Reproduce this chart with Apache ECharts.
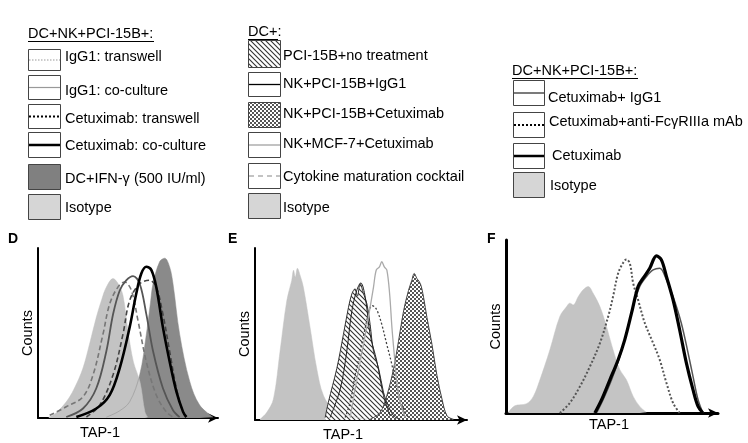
<!DOCTYPE html>
<html><head><meta charset="utf-8">
<script src="https://cdn.jsdelivr.net/npm/echarts@6/dist/echarts.min.js"></script>
<style>html,body{margin:0;padding:0;background:#fff}#c{width:748px;height:443px}</style>
</head><body><div id="c"></div>
<script>
// ---------- legend texts ----------
const legendTitleD = 'DC+NK+PCI-15B+:';
const legendLabelsD = ['IgG1: transwell', 'IgG1: co-culture', 'Cetuximab: transwell', 'Cetuximab: co-culture', 'DC+IFN-\u03b3 (500 IU/ml)', 'Isotype'];
const legendTitleE = 'DC+:';
const legendLabelsE = ['PCI-15B+no treatment', 'NK+PCI-15B+IgG1', 'NK+PCI-15B+Cetuximab', 'NK+MCF-7+Cetuximab', 'Cytokine maturation cocktail', 'Isotype'];
const legendTitleF = 'DC+NK+PCI-15B+:';
const legendLabelsF = ['Cetuximab+ IgG1', 'Cetuximab+anti-Fc\u03b3RIIIa mAb', 'Cetuximab', 'Isotype'];
const panelLetters = ['D', 'E', 'F'];
const xName = 'TAP-1';
const yName = 'Counts';

// ---------- panel D histograms [TAP-1, counts] ----------
const dIsotype = [[6,0.5],[10,3],[15.7,9.5],[20,17],[25,29.4],[29,45],[32.4,59.2],[35.5,70],[38,77],[41.7,82],[44.5,79],[47.2,72],[50,51],[53,33],[56.7,21],[59.4,3.6],[61,0.5]];
const dIFN = [[38,0.5],[45,4],[50.9,9.5],[56.5,25.4],[60.2,49.3],[62.5,68],[63.9,79],[67.6,92],[70.4,94],[73.1,89],[75,79],[78.7,49.3],[84.3,21.5],[89.8,7.6],[97.2,0.5]];
const dIgGTrans = [[6.5,1.6],[15.7,6.6],[25,12.5],[30.6,25.4],[36.1,49.3],[39.8,67],[44.4,77],[48.1,80],[51.9,75],[55.6,57],[60.2,33],[65.7,13.5],[71.3,3.6],[75,0.5]];
const dIgGCo = [[15.7,0.6],[25,5.6],[32.4,17.5],[38,39.4],[41.7,61],[45.4,75],[49,81],[52.8,83.5],[56.5,79],[60.2,61],[63.9,39.4],[69.4,17.5],[75,4.6],[78.7,0.5]];
const dCetTrans = [[26.9,0.6],[34.3,7.6],[41.7,25.4],[47.2,49.3],[50.9,69],[56.5,79],[62,81],[65.7,77],[69.4,61],[73.1,39.4],[76.9,17.5],[80.6,3.6],[83.3,0.5]];
const dCetCo = [[21.3,0.6],[32.4,5.6],[39.8,13.5],[45.4,29.4],[50.9,53.3],[54.6,73.2],[57.4,85],[60.2,89],[63,87],[65.7,77],[69.4,53.3],[73.1,33.4],[76.9,15.5],[80.6,3.6],[82.4,0.5]];

// ---------- panel E histograms ----------
const eIsotype = [[2.4,0.4],[5.5,4.3],[8.7,12.2],[11.8,39.8],[15,69.4],[17.3,81],[18.2,87],[19,83],[20,88.2],[21.3,84],[22.8,77.3],[26,53.6],[29.1,30],[32.3,14.2],[37,6.3],[44.9,2.4],[52.8,0.4]];
const eNoTreat = [[33.1,1.4],[34.6,10.3],[38.6,30],[41.7,49.7],[44.1,65.5],[45.7,73.4],[47.2,76.3],[48.3,72],[49.6,79.3],[51.2,73.4],[52.8,67.5],[54.3,55.6],[55.9,39.8],[58.3,30],[60.6,16.2],[62.2,10.3],[65.4,2.4],[68.5,0.4]];
const eNkIgG = [[35.4,1.4],[40.2,18],[43.3,40],[45.7,63.5],[48,75.3],[49.9,79.7],[52,71.4],[54.3,49.7],[57.5,34],[60.6,14.2],[63.8,2.4]];
const eCocktail = [[42.5,1.4],[44.9,10.3],[47.2,26],[49.6,39.8],[52,53.6],[53.5,61.5],[55.1,66.5],[56.7,65.5],[58.3,61.5],[59.8,55.6],[62.2,43.8],[64.6,32],[66.9,18.1],[70.1,6.3],[72.4,1.4]];
const eMCF7 = [[44.9,1.4],[47.2,18],[49.6,34],[52,49.7],[54.3,65.5],[55.9,77.3],[57.2,87.2],[58.7,89],[59.8,92],[61,89],[62.2,87.2],[63.5,73.4],[64.6,53.6],[65.7,37.9],[66.9,22],[68.5,10.3],[70.9,1.4]];
const eNkCet = [[54.3,0.4],[59,4.3],[62.2,14.2],[65.4,30],[67.7,45.8],[70.1,63.5],[72.4,75.3],[74,81.3],[75.1,85.2],[76.4,82.2],[78,79.3],[79.5,71.4],[81.1,59.6],[83.5,43.8],[85.8,26],[88.2,12.2],[90.6,2.4],[93.7,0.4]];

// ---------- panel F histograms ----------
const fIsotype = [[1.1,0.4],[4.2,4.2],[9.7,5.4],[12.9,9.6],[16,19.2],[20.7,36.5],[25.4,55.8],[28.6,61.5],[30.1,63.5],[31.7,62.5],[34.1,67.3],[36.4,71.2],[38.8,73.1],[41.1,69.2],[44.3,61.5],[47.4,50],[50.5,36.5],[53.7,25],[56.8,19.2],[60,9.6],[63.1,3.8],[66.2,0.4]];
const fAntiFc = [[25.4,0],[30.1,5.8],[34.9,15.4],[39.6,26.9],[44.3,40.4],[48.2,55.8],[50.5,67.3],[52.9,80.8],[55.3,86.9],[56.8,88.8],[58.4,86.5],[60,75],[62.3,65.4],[65.5,51.9],[69.4,40.4],[72.5,30.8],[75.7,17.3],[78.8,5.8],[81.9,0]];
const fCet = [[41.9,0],[45.1,7.7],[49,19.2],[52.9,30.8],[56,42.3],[59.2,57.7],[62.3,73.1],[64.7,77.9],[67.8,83.7],[71,90.8],[73.3,88.5],[75.7,78.8],[78.8,65.4],[81.9,48.1],[85.1,28.8],[88.2,13.5],[90.6,3.8],[92.9,0]];
const fCetIgG = [[42.7,0],[45.8,7.7],[49.8,19.2],[53.7,32.7],[56.8,46.2],[60,61.5],[63.1,73.1],[66.2,78.8],[69.4,82.7],[72.5,83.7],[75.7,76.9],[78.8,67.3],[82.7,51.9],[85.9,34.6],[88.2,21.2],[90.6,7.7],[92.9,0]];

// ---------- patterns ----------
function hatchPattern() {
  const c = document.createElement('canvas'); c.width = 5; c.height = 5;
  const g = c.getContext('2d');
  g.fillStyle = '#fff'; g.fillRect(0, 0, 5, 5);
  g.strokeStyle = '#333'; g.lineWidth = 1.1;
  g.beginPath(); g.moveTo(-1, -1); g.lineTo(6, 6); g.moveTo(-1, 4); g.lineTo(1, 6); g.moveTo(4, -1); g.lineTo(6, 1); g.stroke();
  return { image: c, repeat: 'repeat' };
}
function checkerPattern() {
  const c = document.createElement('canvas'); c.width = 4; c.height = 4;
  const g = c.getContext('2d');
  g.fillStyle = '#fff'; g.fillRect(0, 0, 4, 4);
  g.fillStyle = '#555'; g.fillRect(0, 0, 2, 2); g.fillRect(2, 2, 2, 2);
  return { image: c, repeat: 'repeat' };
}
const HATCH = hatchPattern();
const CHECK = checkerPattern();
const FONT = '"Liberation Sans", Arial, sans-serif';

// ---------- axes ----------
const grids = [
  { left: 38, top: 248, width: 180, height: 170 },
  { left: 255, top: 248, width: 212, height: 173 },
  { left: 506, top: 240, width: 212, height: 173 }
];
const namePad = [[0, 56, 0, 0], [0, 36, 0, 0], [0, 6, 0, 0]];
const axisW = [2, 2, 3];
const xAxes = grids.map((g, i) => ({
  gridIndex: i, type: 'value', min: 0, max: 100,
  axisLine: { show: true, symbol: ['none', 'arrow'], symbolSize: [7, 10], lineStyle: { color: '#000', width: axisW[i] } },
  axisTick: { show: false }, axisLabel: { show: false }, splitLine: { show: false },
  name: xName, nameLocation: 'middle', nameGap: i === 2 ? 4 : 7,
  nameTextStyle: { fontSize: 14.5, color: '#000', fontFamily: FONT, padding: namePad[i], verticalAlign: 'top' }
}));
const yAxes = grids.map((g, i) => ({
  gridIndex: i, type: 'value', min: 0, max: 100,
  axisLine: { show: true, onZero: false, lineStyle: { color: '#000', width: axisW[i] } },
  axisTick: { show: false }, axisLabel: { show: false }, splitLine: { show: false },
  name: yName, nameLocation: 'middle', nameGap: 3,
  nameTextStyle: { fontSize: 14.5, color: '#000', fontFamily: FONT }
}));

function lineS(idx, data, color, width, type, z) {
  return { type: 'line', xAxisIndex: idx, yAxisIndex: idx, data, showSymbol: false, smooth: 0.35, silent: true,
    lineStyle: { color, width, type: type || 'solid' }, z: z || 3 };
}
function areaS(idx, data, fill, edge, edgeW, z) {
  return { type: 'line', xAxisIndex: idx, yAxisIndex: idx, data, showSymbol: false, smooth: 0.35, silent: true,
    lineStyle: { color: edge, width: edgeW }, areaStyle: { color: fill, opacity: 1 }, z: z || 2 };
}

const series = [
  // D
  areaS(0, dIFN, '#8a8a8a', '#8a8a8a', 0.5),
  areaS(0, dIsotype, '#c3c3c3', '#c3c3c3', 0.5),
  lineS(0, dIgGTrans, '#777', 1.6, [5, 3]),
  lineS(0, dIgGCo, '#555', 1.8),
  lineS(0, dCetTrans, '#444', 1.6, [5, 3]),
  lineS(0, dCetCo, '#000', 2.6),
  // E
  areaS(1, eIsotype, '#c3c3c3', '#c3c3c3', 0.5),
  areaS(1, eNoTreat, HATCH, '#333', 1),
  lineS(1, eNkIgG, '#222', 1),
  lineS(1, eCocktail, '#444', 1.3, [2, 2]),
  lineS(1, eMCF7, '#aaa', 1.3),
  areaS(1, eNkCet, CHECK, '#444', 1),
  // F
  areaS(2, fIsotype, '#c4c4c4', '#c4c4c4', 0.5),
  lineS(2, fAntiFc, '#555', 2, [2, 2]),
  lineS(2, fCetIgG, '#555', 1.5),
  lineS(2, fCet, '#000', 3.2)
];

// ---------- legend graphics ----------
const G = [];
function txt(x, y, s, opt) {
  G.push({ type: 'text', silent: true, style: Object.assign({ text: s, x, y, fill: '#000', font: '14.5px ' + FONT,
    verticalAlign: 'middle', textVerticalAlign: 'middle' }, opt || {}) });
}
function title(x, y, s, w) {
  txt(x, y, s);
  G.push({ type: 'line', silent: true, shape: { x1: x, y1: y + 7.5, x2: x + w, y2: y + 7.5 }, style: { stroke: '#000', lineWidth: 1 } });
}
function box(x, y, w, h, fill, line) {
  G.push({ type: 'rect', silent: true, shape: { x: x + 0.5, y: y + 0.5, width: w, height: h },
    style: { fill: fill || '#fff', stroke: '#444', lineWidth: 1 } });
  if (line) {
    G.push({ type: 'line', silent: true, shape: { x1: x + 1, y1: y + 0.5 + h / 2, x2: x + w, y2: y + 0.5 + h / 2 },
      style: { stroke: line.c, lineWidth: line.w, lineDash: line.d || null } });
  }
}
// legend D
title(28, 34, legendTitleD, 126);
const boxesD = [[49, 21], [75, 24], [104, 24], [132, 25], [164, 25], [194, 25]];
const textYD = [57, 91, 119, 146, 179, 208];
const styD = [
  [null, { c: '#999', w: 1, d: [1.5, 1.5] }], [null, { c: '#999', w: 1.2 }], [null, { c: '#000', w: 2, d: [2, 2] }],
  [null, { c: '#000', w: 2.5 }], ['#808080', null], ['#d6d6d6', null]
];
boxesD.forEach((b, i) => { box(28, b[0], 32, b[1], styD[i][0], styD[i][1]); txt(65, textYD[i], legendLabelsD[i]); });
// legend E
title(248, 32, legendTitleE, 30);
const boxesE = [[40, 27], [72, 24], [102, 25], [132, 25], [163, 25], [193, 25]];
const textYE = [56, 84, 114, 144, 177, 208];
const styE = [
  [HATCH, null], [null, { c: '#000', w: 1.3 }], [CHECK, null], [null, { c: '#999', w: 1.2 }],
  [null, { c: '#888', w: 1.2, d: [5, 4] }], ['#d6d6d6', null]
];
boxesE.forEach((b, i) => { box(248, b[0], 32, b[1], styE[i][0], styE[i][1]); txt(283, textYE[i], legendLabelsE[i]); });
// legend F
title(512, 71, legendTitleF, 126);
const boxesF = [[80, 25], [112, 25], [143, 25], [172, 25]];
const textYF = [98, 122, 156, 186];
const textXF = [548, 549, 552, 550];
const styF = [
  [null, { c: '#222', w: 1.2 }], [null, { c: '#000', w: 2, d: [2, 2] }], [null, { c: '#000', w: 2.5 }], ['#d6d6d6', null]
];
boxesF.forEach((b, i) => { box(513, b[0], 31, b[1], styF[i][0], styF[i][1]); txt(textXF[i], textYF[i], legendLabelsF[i]); });
// panel letters
[[8, 239], [228, 239], [487, 239]].forEach((p, i) => txt(p[0], p[1], panelLetters[i], { font: 'bold 14px ' + FONT }));

const chart = echarts.init(document.getElementById('c'), null, { renderer: 'canvas' });
chart.setOption({
  animation: false,
  backgroundColor: '#fff',
  grid: grids,
  xAxis: xAxes,
  yAxis: yAxes,
  series,
  graphic: G
});
</script></body></html>
